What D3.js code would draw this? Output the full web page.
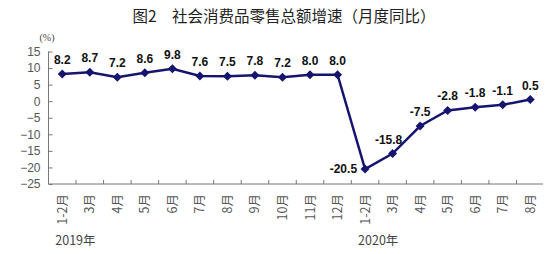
<!DOCTYPE html>
<html><head><meta charset="utf-8">
<script src="https://cdn.jsdelivr.net/npm/d3@7"></script>
<style>body{margin:0;background:#fff}svg{display:block}</style>
</head><body>
<script>
const categories = ["1-2月","3月","4月","5月","6月","7月","8月","9月","10月","11月","12月","1-2月","3月","4月","5月","6月","7月","8月"];
const values = [8.2,8.7,7.2,8.6,9.8,7.6,7.5,7.8,7.2,8.0,8.0,-20.5,-15.8,-7.5,-2.8,-1.8,-1.1,0.5];
const yTicks = [15,10,5,0,-5,-10,-15,-20,-25];
const years = [{label:"2019年", index:0},{label:"2020年", index:11}];
const title = "图2\u3000社会消费品零售总额增速（月度同比）";

const W=548,H=254;
const svg=d3.select("body").append("svg").attr("width",W).attr("height",H);
const x=d3.scaleBand().domain(d3.range(categories.length)).range([48.5,544]);
const y=d3.scaleLinear().domain([-25,15]).range([184,51.5]);
const col="#15156f";

svg.append("text").attr("x",284).attr("y",22).attr("text-anchor","middle")
  .attr("font-family","Noto Sans CJK SC").attr("font-size",15.5).attr("fill","#222").text(title);
svg.append("text").attr("x",47).attr("y",41).attr("text-anchor","middle")
  .attr("font-family","Liberation Serif").attr("font-size",10).attr("fill","#444").text("(%)");

// y axis
const ya=svg.append("g").attr("transform","translate(48.5,0)")
  .call(d3.axisLeft(y).tickValues(yTicks).tickSize(-4).tickPadding(8).tickFormat(d=>d<0?"\u2212"+(-d):d));
ya.select(".domain").attr("stroke","#777").attr("d",`M0,${y(15)}V${y(-25)}`);
ya.selectAll(".tick line").attr("stroke","#777");
ya.selectAll("text").attr("font-family","Liberation Sans").attr("font-size",12).attr("fill","#555").attr("x",-8);

// x axis
const xa=svg.append("g").attr("transform","translate(0,184)");
xa.append("line").attr("x1",48.5).attr("x2",543).attr("stroke","#777");
d3.range(1,categories.length).forEach(i=>{
  xa.append("line").attr("x1",x(i)).attr("x2",x(i)).attr("y1",0).attr("y2",-4).attr("stroke","#777");
});
categories.forEach((c,i)=>{
  xa.append("text").attr("transform",`translate(${x(i)+x.bandwidth()/2+4.5},${10}) rotate(-90)`)
    .attr("text-anchor","end").attr("font-family","Noto Sans CJK SC").attr("font-size",12.5).attr("fill","#555").text(c);
});
years.forEach(yr=>{
  svg.append("text").attr("x",x(yr.index)+x.bandwidth()/2-7).attr("y",245)
    .attr("font-family","Noto Sans CJK SC").attr("font-size",12.5).attr("fill","#444").text(yr.label);
});

const cx=i=>x(i)+x.bandwidth()/2;
svg.append("path").datum(values).attr("fill","none").attr("stroke",col).attr("stroke-width",2.5)
  .attr("d",d3.line().x((d,i)=>cx(i)).y(d=>y(d)));
svg.selectAll(".m").data(values).enter().append("path")
  .attr("transform",(d,i)=>`translate(${cx(i)},${y(d)})`)
  .attr("d","M0,-4.5L4.5,0L0,4.5L-4.5,0Z").attr("fill",col);

svg.selectAll(".lab").data(values).enter().append("text")
  .attr("x",(d,i)=> i===11? cx(i)-8 : i===12? cx(i)-4 : cx(i))
  .attr("y",(d,i)=> i===11? y(d)+4 : y(d)-10)
  .attr("text-anchor",(d,i)=> i===11?"end":"middle")
  .attr("font-family","Liberation Sans").attr("font-weight","bold").attr("font-size",12).attr("fill","#111")
  .text(d=>d.toFixed(1));
</script>
</body></html>
